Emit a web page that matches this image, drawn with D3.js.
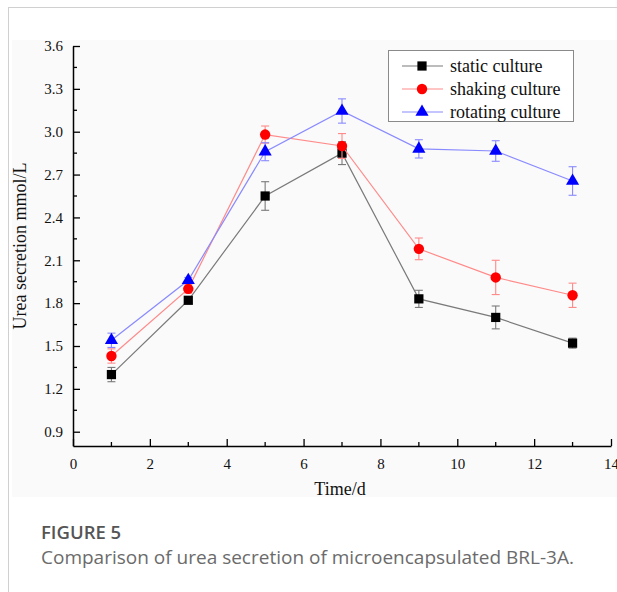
<!DOCTYPE html>
<html><head><meta charset="utf-8">
<script src="https://cdn.jsdelivr.net/npm/d3@7"></script>
<style>
html,body{margin:0;padding:0;background:#fff;}
svg{display:block;}
</style></head>
<body>
<svg id="chart" width="617" height="592"></svg>
<script>
const days = [1, 3, 5, 7, 9, 11, 13];
const staticVals   = [1.30, 1.82, 2.55, 2.85, 1.83, 1.70, 1.52];
const staticErr    = [0.05, 0.02, 0.10, 0.08, 0.06, 0.08, 0.035];
const shakingVals  = [1.43, 1.90, 2.98, 2.90, 2.18, 1.98, 1.855];
const shakingErr   = [0.05, 0.03, 0.06, 0.087, 0.076, 0.12, 0.085];
const rotatingVals = [1.54, 1.96, 2.86, 3.145, 2.88, 2.865, 2.655];
const rotatingErr  = [0.05, 0.02, 0.063, 0.085, 0.064, 0.072, 0.10];
const seriesNames = ["static culture", "shaking culture", "rotating culture"];
const xTicks = [0, 2, 4, 6, 8, 10, 12, 14];
const yTicks = [0.9, 1.2, 1.5, 1.8, 2.1, 2.4, 2.7, 3.0, 3.3, 3.6];

const svg = d3.select("#chart");
// page frame
svg.append("rect").attr("x", 12).attr("y", 40).attr("width", 605).attr("height", 457).attr("fill", "#fafafa");
svg.append("line").attr("x1", 8.5).attr("x2", 8.5).attr("y1", 7).attr("y2", 592).attr("stroke", "#d0d0d0");
svg.append("line").attr("x1", 8).attr("x2", 617).attr("y1", 7.5).attr("y2", 7.5).attr("stroke", "#d0d0d0");

const x = d3.scaleLinear().domain([0, 14]).range([73, 611]);
const y = d3.scaleLinear().domain([0.8, 3.6]).range([446, 46]);

const serif = "'Liberation Serif','Times New Roman',serif";

// axes
const xAxis = d3.axisBottom(x).tickValues(xTicks).tickFormat(d3.format("d")).tickSizeInner(-7).tickSizeOuter(0).tickPadding(12);
const gx = svg.append("g").attr("transform", "translate(0,446)").call(xAxis);
const yAxis = d3.axisLeft(y).tickValues(yTicks).tickFormat(d3.format(".1f")).tickSizeInner(-7).tickSizeOuter(0).tickPadding(10);
const gy = svg.append("g").attr("transform", "translate(73,0)").call(yAxis);
[gx, gy].forEach(g => {
  g.attr("font-family", serif).attr("font-size", 15);
  g.selectAll(".domain").attr("stroke", "#000").attr("stroke-width", 1.5);
  g.selectAll(".tick line").attr("stroke", "#000").attr("stroke-width", 1.3);
  g.selectAll("text").attr("font-family", serif).attr("font-size", 15).attr("fill", "#111");
});
// minor ticks
const xMinor = d3.range(1, 14, 2);
svg.append("g").selectAll("line").data(xMinor).join("line")
  .attr("x1", d => x(d)).attr("x2", d => x(d)).attr("y1", 446).attr("y2", 442)
  .attr("stroke", "#000").attr("stroke-width", 1.3);
const yMinor = d3.range(0, 9).map(i => 1.05 + i * 0.3);
svg.append("g").selectAll("line").data(yMinor).join("line")
  .attr("x1", 73).attr("x2", 77).attr("y1", d => y(d)).attr("y2", d => y(d))
  .attr("stroke", "#000").attr("stroke-width", 1.3);

// axis titles
svg.append("text").attr("x", 340).attr("y", 495).attr("text-anchor", "middle")
  .attr("font-family", serif).attr("font-size", 18).attr("fill", "#111").text("Time/d");
svg.append("text").attr("transform", "translate(26,246) rotate(-90)").attr("text-anchor", "middle")
  .attr("font-family", serif).attr("font-size", 18).attr("fill", "#111").text("Urea secretion mmol/L");

const series = [
  {name: seriesNames[0], vals: staticVals, err: staticErr, line: "#7a7a7a", mark: "#000", shape: d3.symbolSquare, size: 85},
  {name: seriesNames[1], vals: shakingVals, err: shakingErr, line: "#ff8a8a", mark: "#ff0000", shape: d3.symbolCircle, size: 85},
  {name: seriesNames[2], vals: rotatingVals, err: rotatingErr, line: "#8a8aff", mark: "#0000ff", shape: d3.symbolTriangle, size: 75}
];

const lineGen = d3.line().x(d => x(d[0])).y(d => y(d[1]));
series.forEach(s => {
  const pts = days.map((d, i) => [d, s.vals[i], s.err[i]]);
  const g = svg.append("g");
  g.append("path").attr("d", lineGen(pts)).attr("fill", "none").attr("stroke", s.line).attr("stroke-width", 1.2);
  const eb = g.selectAll(".eb").data(pts).join("g");
  eb.append("line").attr("x1", d => x(d[0])).attr("x2", d => x(d[0]))
    .attr("y1", d => y(d[1] - d[2])).attr("y2", d => y(d[1] + d[2])).attr("stroke", s.line).attr("stroke-width", 1.1);
  [-1, 1].forEach(sg => {
    eb.append("line").attr("x1", d => x(d[0]) - 4).attr("x2", d => x(d[0]) + 4)
      .attr("y1", d => y(d[1] + sg * d[2])).attr("y2", d => y(d[1] + sg * d[2])).attr("stroke", s.line).attr("stroke-width", 1.1);
  });
  g.selectAll(".m").data(pts).join("path")
    .attr("d", d3.symbol().type(s.shape).size(s.size))
    .attr("transform", d => `translate(${x(d[0])},${y(d[1])})`)
    .attr("fill", s.mark);
});

// legend
const lg = svg.append("g");
lg.append("rect").attr("x", 388.5).attr("y", 50.5).attr("width", 185).attr("height", 71)
  .attr("fill", "#fff").attr("stroke", "#8a8a8a").attr("stroke-width", 1);
series.forEach((s, i) => {
  const yy = 66 + i * 23;
  lg.append("line").attr("x1", 402).attr("x2", 443).attr("y1", yy).attr("y2", yy).attr("stroke", s.line).attr("stroke-width", 1.2);
  lg.append("path").attr("d", d3.symbol().type(s.shape).size(s.size)).attr("transform", `translate(422,${yy})`).attr("fill", s.mark);
  lg.append("text").attr("x", 450).attr("y", yy + 6).attr("font-family", serif).attr("font-size", 18).attr("fill", "#111").text(s.name);
});

// caption
svg.append("text").attr("x", 41).attr("y", 539).attr("font-family", "'Open Sans',sans-serif").attr("font-weight", 600)
  .attr("font-size", 18.5).attr("fill", "#555").text("FIGURE 5");
svg.append("text").attr("x", 41).attr("y", 564).attr("font-family", "'Open Sans',sans-serif").attr("font-weight", 400)
  .attr("font-size", 19).attr("fill", "#6b6b6b").text("Comparison of urea secretion of microencapsulated BRL-3A.");
</script>
</body></html>
